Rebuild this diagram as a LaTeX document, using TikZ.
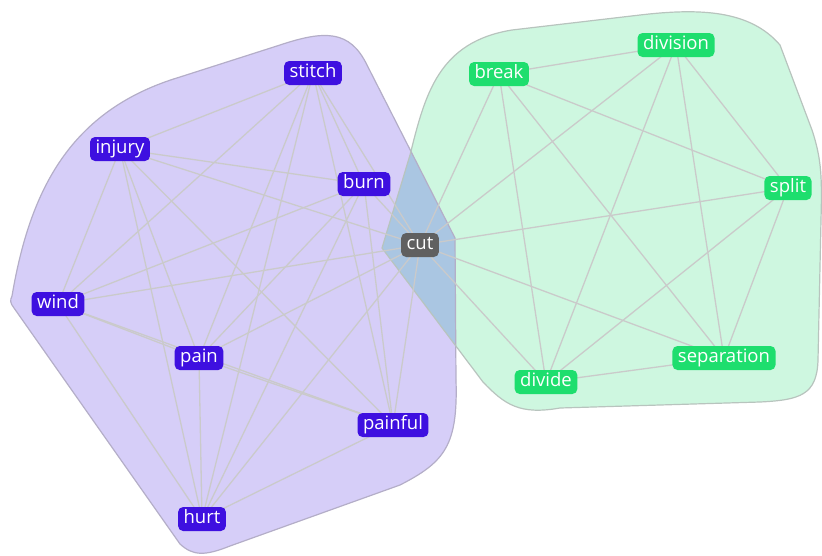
\documentclass[tikz,border=0pt]{standalone}
\usepackage{fontspec}
\setmainfont{Open Sans}
\definecolor{pfill}{RGB}{214,206,248}
\definecolor{pline}{RGB}{180,174,200}
\definecolor{gfill}{RGB}{206,247,224}
\definecolor{gline}{RGB}{184,196,190}
\definecolor{ofill}{RGB}{170,198,226}
\definecolor{pnode}{RGB}{62,16,224}
\definecolor{gnode}{RGB}{30,222,110}
\definecolor{cnode}{RGB}{96,96,96}
\definecolor{edgec}{RGB}{202,202,202}
\pgfdeclarelayer{hulls}
\pgfdeclarelayer{edges}
\pgfsetlayers{hulls,edges,main}
\newcommand\phull{(12,296) .. controls (30,190) and (70,110) .. (180,77) -- (280,45) .. controls (325,30) and (350,30) .. (367,65) -- (455,238) -- (456,380) .. controls (458,445) and (445,462) .. (400,485) -- (230,546) .. controls (205,556) and (193,556) .. (180,544) -- (14,308) .. controls (10,303) and (10,300) .. cycle}
\newcommand\ghull{(382,248) -- (410,155) .. controls (425,95) and (438,42) .. (512,30) -- (640,15) .. controls (700,8) and (750,10) .. (780,45) -- (812,130) .. controls (822,160) and (822,180) .. (821,220) -- (818,360) .. controls (817,395) and (800,400) .. (760,402) -- (560,408) .. controls (520,415) and (505,405) .. (483,382) -- cycle}
\tikzset{
  wbox/.style={rounded corners=5pt, text=white, font=\fontsize{18.5}{20}\selectfont,
    inner xsep=5.5pt, inner ysep=2.5pt, text height=14pt, text depth=5pt},
  pbox/.style={wbox, fill=pnode},
  gbox/.style={wbox, fill=gnode},
  cbox/.style={wbox, fill=cnode},
  link/.style={draw=edgec, line width=1.3pt},
}
\begin{document}
\begin{tikzpicture}[x=1pt,y=-1pt]
\useasboundingbox (0,0) rectangle (822,555);
\begin{pgfonlayer}{hulls}
\fill[pfill] \phull;
\fill[gfill] \ghull;
\begin{scope}
\clip \phull;
\fill[ofill] \ghull;
\end{scope}
\draw[pline, line width=1.2pt] \phull;
\draw[gline, line width=1.2pt] \ghull;
\end{pgfonlayer}

\node[pbox] (stitch) at (313,73) {stitch};
\node[pbox] (injury) at (120,149) {injury};
\node[pbox] (burn) at (364,184) {burn};
\node[cbox] (cut) at (420,245) {cut};
\node[pbox] (wind) at (58,304) {wind};
\node[pbox] (pain) at (199,358) {pain};
\node[pbox] (painful) at (393,425) {painful};
\node[pbox] (hurt) at (202,519) {hurt};
\node[gbox] (break) at (499,74) {break};
\node[gbox] (division) at (676,45) {division};
\node[gbox] (split) at (788,188) {split};
\node[gbox] (separation) at (724,358) {separation};
\node[gbox] (divide) at (546,382) {divide};

\begin{pgfonlayer}{edges}
\foreach \a/\b in {stitch/injury,stitch/burn,stitch/cut,stitch/wind,stitch/pain,stitch/painful,stitch/hurt,
  injury/burn,injury/cut,injury/wind,injury/pain,injury/painful,injury/hurt,
  burn/cut,burn/wind,burn/pain,burn/painful,burn/hurt,
  cut/wind,cut/pain,cut/painful,cut/hurt,
  wind/pain,wind/painful,wind/hurt,
  pain/painful,pain/hurt,
  painful/hurt,
  cut/break,cut/division,cut/split,cut/separation,cut/divide,
  break/division,break/split,break/separation,break/divide,
  division/split,division/separation,division/divide,
  split/separation,split/divide,
  separation/divide}
  \draw[link] (\a.center) -- (\b.center);
\end{pgfonlayer}
\end{tikzpicture}
\end{document}
